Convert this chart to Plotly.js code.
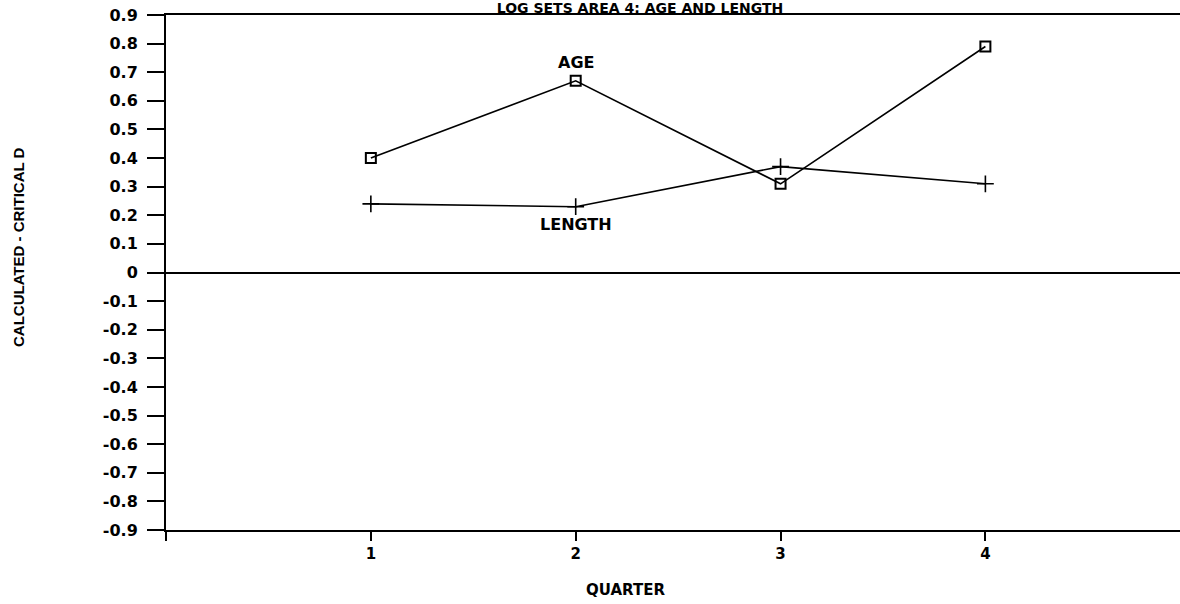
<!DOCTYPE html>
<html>
<head>
<meta charset="utf-8">
<script src="https://cdn.plot.ly/plotly-3.0.1.min.js"></script>
<style>
html,body{margin:0;padding:0;background:#fff;}
#chart{width:1180px;height:604px;}
</style>
</head>
<body>
<div id="chart"></div>
<script>
const quarters = [1, 2, 3, 4];
const ageValues = [0.40, 0.67, 0.31, 0.79];
const lengthValues = [0.24, 0.23, 0.37, 0.31];
const xTickVals = [0, 1, 2, 3, 4];
const xTickText = ['', '1', '2', '3', '4'];
const yTickLabels = ['0.9','0.8','0.7','0.6','0.5','0.4','0.3','0.2','0.1','0','-0.1','-0.2','-0.3','-0.4','-0.5','-0.6','-0.7','-0.8','-0.9'];
const yTickVals = yTickLabels.map(Number);
const chartTitle = 'LOG SETS AREA 4: AGE AND LENGTH';
const xTitle = 'QUARTER';
const yTitle = 'CALCULATED - CRITICAL D';
const seriesNames = ['AGE', 'LENGTH'];

const F = 'DejaVu Sans, Liberation Sans, sans-serif';
const ink = '#000';

const traces = [
  {
    x: quarters, y: ageValues, name: seriesNames[0], type: 'scatter', mode: 'lines+markers',
    line: {color: ink, width: 1.6},
    marker: {symbol: 'square-open', size: 10, color: ink, line: {width: 2, color: ink}},
    cliponaxis: false
  },
  {
    x: quarters, y: lengthValues, name: seriesNames[1], type: 'scatter', mode: 'lines+markers',
    line: {color: ink, width: 1.6},
    marker: {symbol: 'cross-thin-open', size: 12, color: ink, line: {width: 1.6, color: ink}},
    cliponaxis: false
  }
];

const layout = {
  width: 1180, height: 604,
  paper_bgcolor: '#fff', plot_bgcolor: '#fff',
  showlegend: false,
  margin: {l: 166, r: 0, t: 15, b: 74, pad: 0},
  font: {family: F, color: ink},
  title: {
    text: '<b>' + chartTitle + '</b>',
    font: {family: F, size: 14, color: ink},
    x: 640 / 1180, xanchor: 'center', xref: 'container',
    y: 1 - 3 / 604, yanchor: 'top', yref: 'container',
    pad: {t: 0, b: 0}
  },
  xaxis: {
    range: [0, 4.95],
    tickvals: xTickVals, ticktext: xTickText,
    ticks: 'outside', ticklen: 9, tickwidth: 2, tickcolor: ink,
    showline: true, linecolor: ink, linewidth: 2, mirror: true,
    showgrid: false, zeroline: false,
    tickfont: {family: F, size: 15, color: ink, weight: 'bold'},
    fixedrange: true
  },
  yaxis: {
    range: [-0.9, 0.9],
    tickvals: yTickVals, ticktext: yTickLabels,
    ticks: 'outside', ticklen: 17, tickwidth: 2, tickcolor: ink,
    ticklabelstandoff: 6,
    showline: true, linecolor: ink, linewidth: 2,
    showgrid: false,
    zeroline: true, zerolinecolor: ink, zerolinewidth: 2,
    tickfont: {family: F, size: 16, color: ink, weight: 'bold'},
    fixedrange: true
  },
  annotations: [
    {text: '<b>' + xTitle + '</b>', xref: 'paper', yref: 'paper', x: (625 - 166) / 1014, y: (530 - 590) / 515,
     xanchor: 'center', yanchor: 'middle', showarrow: false, font: {family: F, size: 15, color: ink}},
    {text: '<b>' + yTitle + '</b>', xref: 'paper', yref: 'paper', x: (18 - 166) / 1014, y: (530 - 247) / 515,
     xanchor: 'center', yanchor: 'middle', textangle: -90, showarrow: false,
     font: {family: 'Liberation Sans Narrow, Liberation Sans, sans-serif', size: 15, color: ink}},
    {text: '<b>' + seriesNames[0] + '</b>', x: quarters[1], y: ageValues[1], xref: 'x', yref: 'y',
     yshift: 18, showarrow: false, font: {family: F, size: 16, color: ink}},
    {text: '<b>' + seriesNames[1] + '</b>', x: quarters[1], y: lengthValues[1], xref: 'x', yref: 'y',
     yshift: -18, showarrow: false, font: {family: F, size: 16, color: ink}}
  ]
};

Plotly.newPlot('chart', traces, layout, {displayModeBar: false, staticPlot: true});
</script>
</body>
</html>
